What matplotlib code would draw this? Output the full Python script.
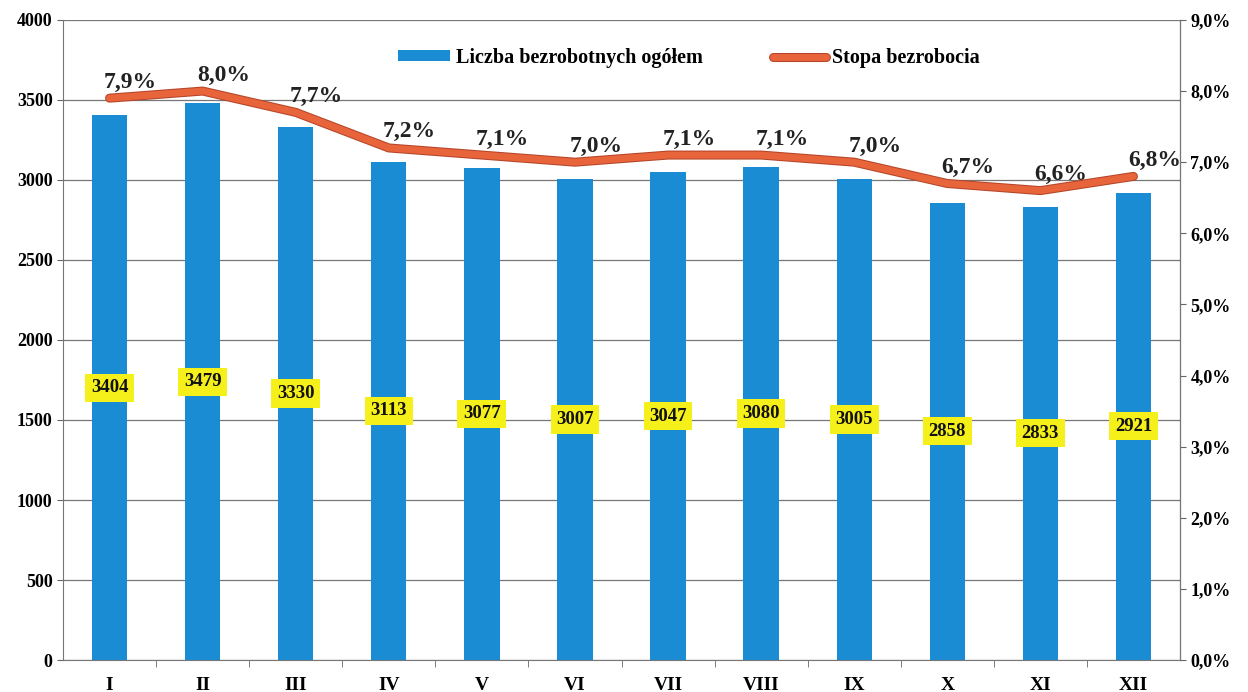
import matplotlib.pyplot as plt
import matplotlib.patheffects as pe
from matplotlib.ticker import FuncFormatter

# data
months = ['I', 'II', 'III', 'IV', 'V', 'VI', 'VII', 'VIII', 'IX', 'X', 'XI', 'XII']
unemployed = [3404, 3479, 3330, 3113, 3077, 3007, 3047, 3080, 3005, 2858, 2833, 2921]
rate = [7.9, 8.0, 7.7, 7.2, 7.1, 7.0, 7.1, 7.1, 7.0, 6.7, 6.6, 6.8]

BAR_COLOR = '#1a8cd3'
LINE_COLOR = '#e8643a'

plt.rcParams['font.family'] = ['Liberation Serif', 'DejaVu Serif']
plt.rcParams['font.weight'] = 'bold'

fig = plt.figure(figsize=(12.48, 6.92), dpi=100)
ax = fig.add_axes([0.0505, 0.0462, 0.895, 0.925])
ax2 = ax.twinx()

x = list(range(len(months)))
ax.bar(x, unemployed, width=0.38, color=BAR_COLOR, zorder=2, label='Liczba bezrobotnych ogółem')

# bar value labels in yellow boxes, placed mid-bar
for xi, v in zip(x, unemployed):
    ax.text(xi, v / 2, str(v), ha='center', va='center', fontsize=13.5, fontweight='bold',
            color='#111111', zorder=5,
            bbox=dict(boxstyle='square,pad=0.3', fc='#f5ef1a', ec='none'))

ax.set_ylim(0, 4000)
ax.set_yticks(range(0, 4001, 500))
ax.set_xlim(-0.5, len(months) - 0.5)
ax.set_xticks(x)
ax.set_xticklabels(months, fontsize=14, fontweight='bold')
ax.set_xticks([i + 0.5 for i in x[:-1]], minor=True)
ax.tick_params(axis='x', which='major', length=0, pad=12)
ax.tick_params(axis='x', which='minor', length=5, color='#666666')
ax.tick_params(axis='y', labelsize=13, length=4, color='#666666')
for lbl in ax.get_yticklabels():
    lbl.set_fontweight('bold')
ax.grid(axis='y', color='#777777', linewidth=0.9, zorder=0)
ax.set_axisbelow(True)

for s in ['top']:
    ax.spines[s].set_visible(False)
    ax2.spines[s].set_visible(False)
ax.spines['left'].set_color('#777777')
ax.spines['bottom'].set_color('#777777')
ax2.spines['right'].set_color('#777777')
ax2.spines['left'].set_visible(False)
ax2.spines['bottom'].set_visible(False)

# rate line
line, = ax2.plot(x, rate, color=LINE_COLOR, linewidth=5, solid_joinstyle='round',
                 solid_capstyle='round', zorder=4, label='Stopa bezrobocia',
                 path_effects=[pe.Stroke(linewidth=6.5, foreground='#b5452a'), pe.Normal()])
for xi, r in zip(x, rate):
    ax2.annotate(f'{r:.1f}%'.replace('.', ','), (xi, r), xytext=(15, 4),
                 textcoords='offset points', ha='center', va='bottom',
                 fontsize=17, fontweight='bold', color='#222222')

ax2.set_ylim(0, 9)
ax2.set_yticks(range(0, 10))
ax2.yaxis.set_major_formatter(FuncFormatter(lambda v, p: f'{v:.1f}%'.replace('.', ',')))
ax2.tick_params(axis='y', labelsize=13, length=4, color='#666666')
for lbl in ax2.get_yticklabels():
    lbl.set_fontweight('bold')

handles = [ax.patches[0], line]
ax.legend(handles, ['Liczba bezrobotnych ogółem', 'Stopa bezrobocia'],
          loc='upper center', bbox_to_anchor=(0.56, 0.985), ncol=2, frameon=False,
          handlelength=2.6, handleheight=0.4, columnspacing=3.5,
          handletextpad=0.3, prop={'weight': 'bold', 'size': 14.5})

fig.savefig('out.png', dpi=100)
